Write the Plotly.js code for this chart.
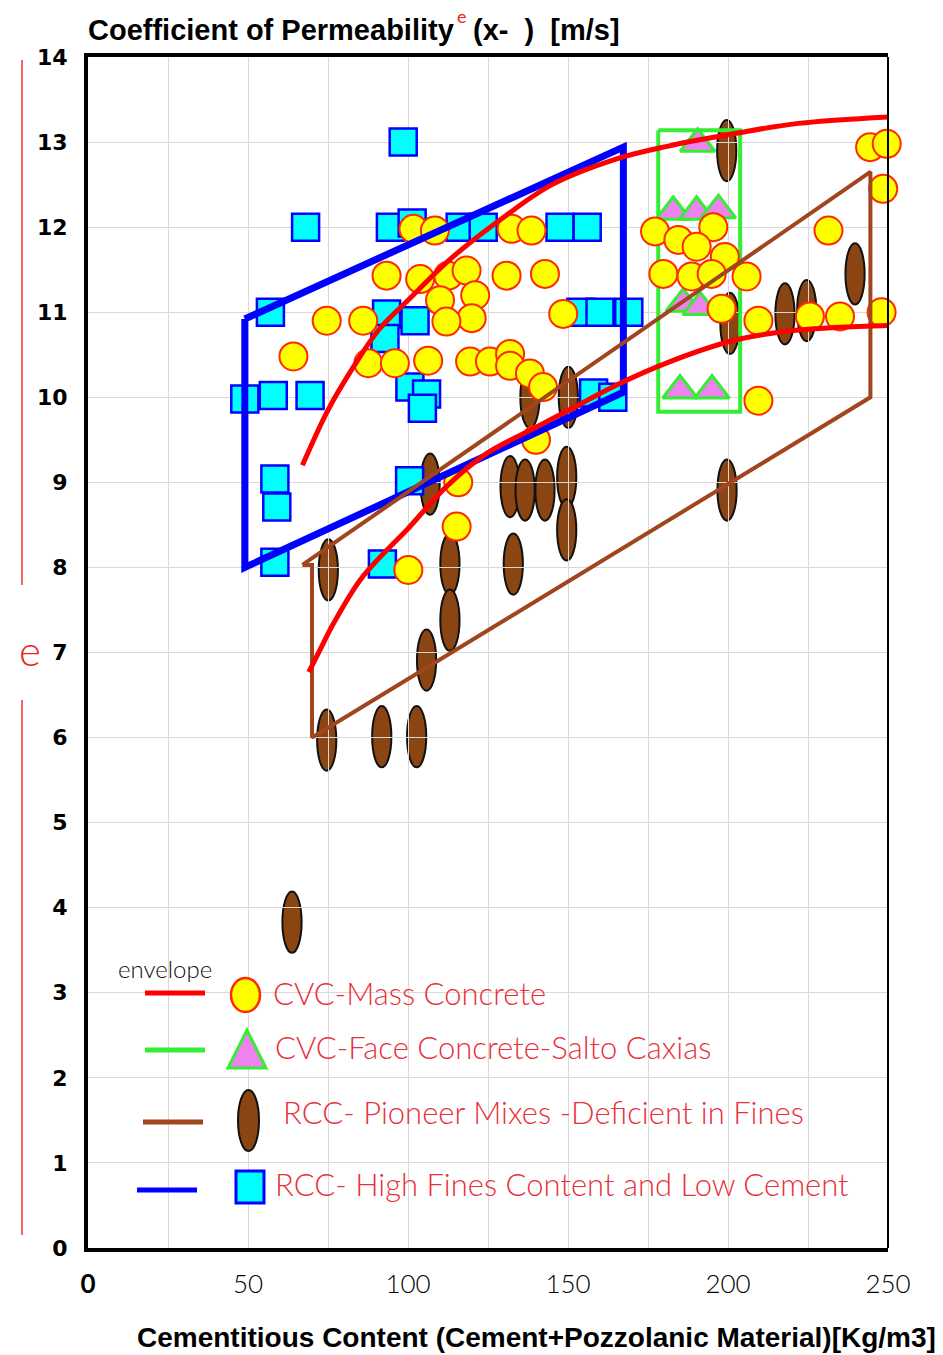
<!DOCTYPE html>
<html><head><meta charset="utf-8">
<script src="https://cdn.plot.ly/plotly-3.0.1.min.js"></script>
<style>html,body{margin:0;padding:0;background:#fff;}#chart{width:943px;height:1355px;}</style>
</head><body><div id="chart"></div>
<script>
// ---------------- data ----------------
const cvcMassX = [101.7,108.4,132.4,138.6,93.3,103.8,112.6,118.3,130.8,142.8,110,121,119.9,112,86,148.5,
  64.2,74.6,87.6,95.9,106.3,119.4,125.6,131.9,131.9,138.1,142.2,140,115.7,115.2,100.1,
  244.4,249.6,248.5,231.4,177.2,184.5,195.4,190.2,199,179.8,188.6,194.9,205.8,198,209.5,225.6,235,248,209.5];
const cvcMassY = [11.98,11.96,11.98,11.96,11.43,11.39,11.43,11.49,11.43,11.45,11.14,11.2,10.93,10.89,10.9,10.98,
  10.48,10.9,10.4,10.4,10.43,10.42,10.42,10.51,10.37,10.28,10.12,9.5,9.0,8.48,7.97,
  12.94,12.98,12.45,11.96,11.95,11.85,12.0,11.77,11.65,11.45,11.42,11.45,11.42,11.04,10.9,10.95,10.95,11.0,9.96];

const faceX = [190.5,182.9,190.2,197,186,191.3,185,195];
const faceY = [12.98,12.18,12.18,12.2,11.1,11.06,10.08,10.08];

const pioneerX = [75.1,106.9,113.1,113.1,105.8,74.6,91.8,102.7,131.9,136.6,142.8,149.6,149.6,132.9,
  138.1,150.1,199.6,200.6,217.8,224.6,239.7,199.7,63.75];
const pioneerY = [7.97,8.98,8.04,7.38,6.91,5.97,6.01,6.01,8.95,8.91,8.91,9.06,8.44,8.04,
  10.0,10.0,12.9,10.87,10.98,11.02,11.45,8.91,3.83];

const highFinesX = [98.5,68,94.5,101.3,116.3,123.5,147.5,156,57,93.3,102.2,92.8,154,160,169,
  49,57.9,69.4,100.6,105.8,104.5,158,164,58.4,59,58.4,92,100.5];
const highFinesY = [13,12,12,12.05,12,12,12,12,11,10.98,10.9,10.69,11,11,11,
  9.98,10.02,10.02,10.12,10.04,9.87,10.05,10,9.04,8.71,8.06,8.04,9.02];

// envelopes
const cvcUpperX = [67,75,83,91,100,114,130,145,165,181,202,222,252];
const cvcUpperY = [9.2,9.85,10.36,10.8,11.14,11.65,12.12,12.5,12.8,12.95,13.1,13.22,13.3];
const cvcLowerX = [69,72.5,76.7,85,93.3,99.6,112,124.6,140.2,155.8,166,181.9,202,222,255];
const cvcLowerY = [6.77,7.03,7.34,7.85,8.2,8.44,8.95,9.34,9.65,9.96,10.16,10.42,10.67,10.79,10.85];
const faceEnvX = [178.2,203.8,203.8,178.2,178.2];
const faceEnvY = [13.14,13.14,9.83,9.83,13.14];
const pioneerEnvX = [67,70,70,244.5,244.5,67];
const pioneerEnvY = [8.03,8.03,6.0,10.0,12.65,8.03];
const highEnvX = [49,49,167.3,167.3,49];
const highEnvY = [10.92,8.0,10.06,12.94,10.92];

const xTickVals = [0,50,100,150,200,250];
const xTickText = ['<b>0</b>','50','100','150','200','250'];
const yTickVals = [0,1,2,3,4,5,6,7,8,9,10,11,12,13,14];

const legendLabels = ['CVC-Mass Concrete','CVC-Face Concrete-Salto Caxias',
  'RCC- Pioneer Mixes -Deficient in Fines','RCC- High Fines Content and Low Cement'];

// ---------------- styles ----------------
const RED = '#ff0000', GREEN = '#33ee33', BROWN = '#a0451e', BLUE = '#0000ff';
const TXTRED = '#e8303a';
const thin = 'Lato, "Open Sans", sans-serif';
const boldNarrow = '"Liberation Sans Narrow", "Liberation Sans", Arial, sans-serif';

const traces = [
  {x: faceEnvX, y: faceEnvY, mode: 'lines', line: {color: GREEN, width: 4}, cliponaxis: false},
  {x: faceX, y: faceY, mode: 'markers', cliponaxis: false,
   marker: {symbol: 'triangle-up', size: 30, color: '#ee82ee', line: {color: GREEN, width: 3}}},
  {x: highFinesX, y: highFinesY, mode: 'markers', cliponaxis: false,
   marker: {symbol: 'square', size: 27, color: '#00ffff', line: {color: BLUE, width: 2.5}}},
  {x: cvcMassX, y: cvcMassY, mode: 'markers', cliponaxis: false,
   marker: {symbol: 'circle', size: 28, color: '#ffff00', line: {color: '#ff2a00', width: 2}}},
  {x: pioneerX, y: pioneerY, mode: 'markers', cliponaxis: false,
   marker: {size: 4, color: 'rgba(0,0,0,0)'}},
  {x: highEnvX, y: highEnvY, mode: 'lines', line: {color: BLUE, width: 7}, cliponaxis: false},
  {x: pioneerEnvX, y: pioneerEnvY, mode: 'lines', line: {color: BROWN, width: 4}, cliponaxis: false},
  {x: cvcUpperX, y: cvcUpperY, mode: 'lines', line: {color: RED, width: 5, shape: 'spline'}, cliponaxis: false},
  {x: cvcLowerX, y: cvcLowerY, mode: 'lines', line: {color: RED, width: 5, shape: 'spline'}, cliponaxis: false}
];

// pixel helpers for decoration (plot area 88..888 x 57..1248)
const PX = v => (v - 88) / 800;
const PY = v => (1248 - v) / 1191;

const shapes = [];
// ellipse markers for pioneer mixes, sized in data units
pioneerX.forEach((x, i) => {
  shapes.push({type: 'circle', xref: 'x', yref: 'y', layer: 'below',
    x0: x - 3.0, x1: x + 3.0, y0: pioneerY[i] - 0.36, y1: pioneerY[i] + 0.36,
    fillcolor: '#8b4513', line: {color: '#111', width: 2}});
});
// right frame line (thin)
shapes.push({type: 'line', xref: 'paper', yref: 'paper', x0: 1, x1: 1, y0: 0, y1: 1, line: {color: '#000', width: 2}});
// red y-axis decoration
shapes.push({type: 'line', xref: 'paper', yref: 'paper', x0: PX(22), x1: PX(22), y0: PY(60), y1: PY(585), line: {color: '#ee3333', width: 1.5}});
shapes.push({type: 'line', xref: 'paper', yref: 'paper', x0: PX(22), x1: PX(22), y0: PY(700), y1: PY(1235), line: {color: '#ee3333', width: 1.5}});

// legend
const legRows = [
  {ly: 993, color: RED, lx0: 145, lx1: 205},
  {ly: 1050, color: GREEN, lx0: 145, lx1: 205},
  {ly: 1122, color: BROWN, lx0: 143, lx1: 203},
  {ly: 1190, color: BLUE, lx0: 137, lx1: 197}
];
legRows.forEach(r => shapes.push({type: 'line', xref: 'paper', yref: 'paper',
  x0: PX(r.lx0), x1: PX(r.lx1), y0: PY(r.ly), y1: PY(r.ly), line: {color: r.color, width: 5}}));
// legend symbols
shapes.push({type: 'circle', xref: 'paper', yref: 'paper', x0: PX(231), x1: PX(260), y0: PY(1012), y1: PY(978),
  fillcolor: '#ffff00', line: {color: '#ff2a00', width: 2.5}});
shapes.push({type: 'path', xref: 'paper', yref: 'paper',
  path: `M ${PX(228)} ${PY(1068)} L ${PX(266)} ${PY(1068)} L ${PX(247)} ${PY(1030)} Z`,
  fillcolor: '#ee82ee', line: {color: GREEN, width: 3}});
shapes.push({type: 'circle', xref: 'paper', yref: 'paper', x0: PX(238), x1: PX(259), y0: PY(1151), y1: PY(1090),
  fillcolor: '#8b4513', line: {color: '#111', width: 2}});
shapes.push({type: 'rect', xref: 'paper', yref: 'paper', x0: PX(236), x1: PX(264), y0: PY(1203), y1: PY(1171),
  fillcolor: '#00ffff', line: {color: BLUE, width: 3}});

const legFont = {family: thin, size: 31, color: TXTRED, weight: 300};
const titleFont = {family: boldNarrow, size: 29, color: '#000', weight: 'bold'};
const annotations = [
  {text: '(x-  )  [m/s]', xref: 'paper', yref: 'paper', x: PX(471), y: PY(30), xanchor: 'left', yanchor: 'middle',
   showarrow: false, font: titleFont},
  {text: 'e', xref: 'paper', yref: 'paper', x: PX(462), y: PY(16), xanchor: 'center', yanchor: 'middle', showarrow: false,
   font: {family: thin, size: 18, color: '#ee2222'}},
  {text: 'Cementitious Content (Cement+Pozzolanic Material)[Kg/m3]', xref: 'paper', yref: 'paper',
   x: PX(536), y: PY(1337), xanchor: 'center', yanchor: 'middle', showarrow: false,
   font: {family: boldNarrow, size: 28, color: '#000', weight: 'bold'}},
  {text: 'e', xref: 'paper', yref: 'paper', x: PX(30), y: PY(650), xanchor: 'center', yanchor: 'middle', showarrow: false,
   font: {family: thin, size: 42, color: '#ee2222', weight: 300}},
  {text: 'envelope', xref: 'paper', yref: 'paper', x: PX(116), y: PY(968), xanchor: 'left', yanchor: 'middle', showarrow: false,
   font: {family: thin, size: 24, color: '#111', weight: 300}},
  {text: legendLabels[0], xref: 'paper', yref: 'paper', x: PX(271), y: PY(993), xanchor: 'left', yanchor: 'middle', showarrow: false, font: legFont},
  {text: legendLabels[1], xref: 'paper', yref: 'paper', x: PX(273), y: PY(1047), xanchor: 'left', yanchor: 'middle', showarrow: false, font: legFont},
  {text: legendLabels[2], xref: 'paper', yref: 'paper', x: PX(281), y: PY(1112), xanchor: 'left', yanchor: 'middle', showarrow: false, font: legFont},
  {text: legendLabels[3], xref: 'paper', yref: 'paper', x: PX(273), y: PY(1184), xanchor: 'left', yanchor: 'middle', showarrow: false, font: legFont}
];

const layout = {
  width: 943, height: 1355,
  margin: {l: 88, r: 55, t: 57, b: 107},
  paper_bgcolor: '#fff', plot_bgcolor: '#fff',
  showlegend: false, hovermode: false,
  title: {text: 'Coefficient of Permeability',
    xref: 'paper', x: 0, xanchor: 'left',
    yref: 'container', y: 1 - 30 / 1355, yanchor: 'middle',
    font: titleFont},
  xaxis: {range: [0, 250], tickvals: xTickVals, ticktext: xTickText,
    showgrid: true, gridcolor: '#d9d9d9', gridwidth: 1, zeroline: false,
    showline: true, linecolor: '#000', linewidth: 4, mirror: true, ticks: '',
    ticklabelstandoff: 10,
    tickfont: {family: thin, size: 26, color: '#000', weight: 300},
    minor: {dtick: 25, showgrid: true, gridcolor: '#d9d9d9', gridwidth: 1}},
  yaxis: {range: [0, 14], tickvals: yTickVals, showgrid: true, gridcolor: '#d9d9d9', gridwidth: 1, zeroline: false,
    showline: true, linecolor: '#000', linewidth: 4, ticks: '', ticklabelstandoff: 12,
    tickfont: {family: '"DejaVu Sans", sans-serif', size: 22, color: '#000', weight: 'bold'}},
  shapes: shapes,
  annotations: annotations
};

Plotly.newPlot('chart', traces, layout, {staticPlot: true, displayModeBar: false});
</script>
</body></html>
